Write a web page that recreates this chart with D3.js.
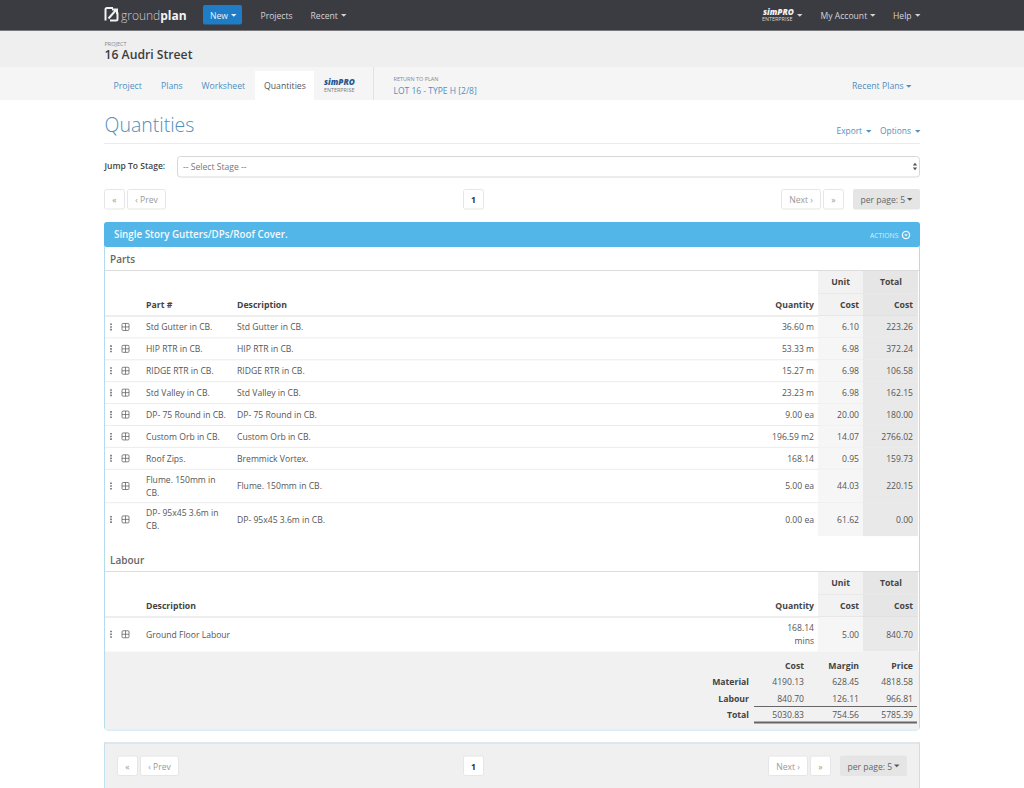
<!DOCTYPE html>
<html>
<head>
<meta charset="utf-8">
<script src="https://cdn.jsdelivr.net/npm/d3@7"></script>
<style>
  html, body { margin: 0; padding: 0; background: #fff; overflow: hidden; }
  svg { display: block; font-family: "Open Sans", sans-serif; }
</style>
</head>
<body>
<svg id="chart" width="1024" height="788"></svg>
<script>
// values
const navLeft = ['Projects', 'Recent'];
const navRight = ['My Account', 'Help'];
const tabs = ['Project', 'Plans', 'Worksheet', 'Quantities'];

const partNames = ['Std Gutter in CB.', 'HIP RTR in CB.', 'RIDGE RTR in CB.', 'Std Valley in CB.',
  'DP- 75 Round in CB.', 'Custom Orb in CB.', 'Roof Zips.', 'Flume. 150mm in\nCB.', 'DP- 95x45 3.6m in\nCB.'];
const partDescriptions = ['Std Gutter in CB.', 'HIP RTR in CB.', 'RIDGE RTR in CB.', 'Std Valley in CB.',
  'DP- 75 Round in CB.', 'Custom Orb in CB.', 'Bremmick Vortex.', 'Flume. 150mm in CB.', 'DP- 95x45 3.6m in CB.'];
const partQuantities = ['36.60 m', '53.33 m', '15.27 m', '23.23 m', '9.00 ea', '196.59 m2', '168.14', '5.00 ea', '0.00 ea'];
const partUnitCosts = ['6.10', '6.98', '6.98', '6.98', '20.00', '14.07', '0.95', '44.03', '61.62'];
const partTotalCosts = ['223.26', '372.24', '106.58', '162.15', '180.00', '2766.02', '159.73', '220.15', '0.00'];

const labourNames = ['Ground Floor Labour'];
const labourQuantities = ['168.14\nmins'];
const labourUnitCosts = ['5.00'];
const labourTotalCosts = ['840.70'];

const summaryLabels = ['Material', 'Labour', 'Total'];
const summaryCost = ['4190.13', '840.70', '5030.83'];
const summaryMargin = ['628.45', '126.11', '754.56'];
const summaryPrice = ['4818.58', '966.81', '5785.39'];

const svg = d3.select('#chart');
const blue = '#4f8fc0';
const small = 8.6;

function rect(x, y, w, h, fill, stroke, r) {
  return svg.append('rect').attr('x', x).attr('y', y).attr('width', w).attr('height', h)
    .attr('fill', fill).attr('stroke', stroke || 'none').attr('rx', r || 0);
}
function text(x, y, s, size, color, weight, anchor) {
  return svg.append('text').attr('x', x).attr('y', y).text(s)
    .attr('font-size', size).attr('fill', color).attr('font-weight', weight || 400)
    .attr('text-anchor', anchor || 'start');
}
function hline(x1, x2, y, color, w) {
  svg.append('line').attr('x1', x1).attr('x2', x2).attr('y1', y).attr('y2', y)
    .attr('stroke', color).attr('stroke-width', w || 1);
}
function caret(x, y, color) {
  svg.append('path').attr('d', `M${x},${y}l5.5,0l-2.75,2.8z`).attr('fill', color);
}

// top bar
rect(0, 0, 1024, 30, '#3b3b42');
hline(0, 1024, 30.5, '#77777c');
svg.append('path').attr('d', 'M105.5,20.5V9.5a1.5,1.5 0 0 1 1.5,-1.5H113M117.5,12.5V19a1.5,1.5 0 0 1 -1.5,1.5H110M108.5,18.5L116,10M112,9.5H117V14')
  .attr('fill', 'none').attr('stroke', '#f2f2f2').attr('stroke-width', 2);
text(121, 19.5, 'ground', 12, '#cfcfd2', 300).append('tspan').text('plan').attr('font-weight', 700).attr('fill', '#f4f4f4');
rect(203, 5, 39, 19.5, '#1f7cc6', null, 2);
text(210, 18.5, 'New', small, '#e8f2fa');
caret(231, 14, '#e8f2fa');
text(260.5, 18.5, navLeft[0], small, '#d4d4d6');
text(310.5, 18.5, navLeft[1], small, '#d4d4d6');
caret(341, 14, '#d4d4d6');
text(763, 14.5, 'simPRO', 8.2, '#f2f2f2', 800).attr('font-style', 'italic');
text(762, 21, 'ENTERPRISE', 5.4, '#d8d8d8', 400);
caret(797, 14, '#d4d4d6');
text(820.5, 18.5, navRight[0], small, '#d4d4d6');
caret(870, 14, '#d4d4d6');
text(893, 18.5, navRight[1], small, '#d4d4d6');
caret(915, 14, '#d4d4d6');

// project strip
rect(0, 31, 1024, 36, '#efeff0');
text(104.5, 46, 'PROJECT', 5.5, '#888');
text(104.5, 59, '16 Audri Street', 12.2, '#3d3d3d', 600);

// tabs
rect(0, 67, 1024, 33, '#f5f5f6');
rect(255, 71, 59, 29, '#fff');
[113.5, 161, 201.5].forEach((x, i) => text(x, 89, tabs[i], 8.7, blue));
text(264, 89, tabs[3], 8.7, '#555');
text(324, 85, 'simPRO', 8.2, '#27598f', 800).attr('font-style', 'italic');
text(324, 92, 'ENTERPRISE', 5.4, '#777');
svg.append('line').attr('x1', 373.5).attr('x2', 373.5).attr('y1', 67).attr('y2', 100).attr('stroke', '#e3e3e4');
text(393.5, 81, 'RETURN TO PLAN', 5.5, '#888');
text(393.5, 94, 'LOT 16 - TYPE H [2/8]', 8.5, blue);
text(852, 89, 'Recent Plans', 8.7, blue);
caret(906, 85, blue);

// page title
text(104.5, 132, 'Quantities', 19.5, '#4f8fc0', 300);
text(836.5, 134, 'Export', 8.4, blue);
caret(866, 130, blue);
text(880, 134, 'Options', 8.4, blue);
caret(915, 130, blue);
hline(104, 920, 143.5, '#e4edf2');

// stage select
text(104.5, 169, 'Jump To Stage:', 8.5, '#444', 600);
rect(177.5, 156.5, 742, 20.5, '#fff', '#d8d8d8', 3);
text(183, 170, '-- Select Stage --', small, '#777');
svg.append('path').attr('d', 'M912.8,165.5l2.2,-2.8l2.2,2.8zM912.8,167.5l2.2,2.8l2.2,-2.8z').attr('fill', '#555');

// pager
function button(x, y, w, label, color, weight) {
  rect(x + 0.5, y + 0.5, w - 1, 19.5, '#fff', '#e6e6e6', 2);
  text(x + w / 2, y + 14, label, small, color, weight, 'middle');
}
function pager(y, xs) {
  button(xs[0], y, 21, '«', '#999');
  button(xs[1], y, 39, '‹ Prev', '#999');
  button(463, y, 21, '1', '#333', 700);
  button(xs[2], y, 40, 'Next ›', '#999');
  button(xs[3], y, 21, '»', '#999');
  rect(xs[4], y, 67, 20.5, '#e5e5e5', null, 2);
  text(xs[4] + 7.5, y + 14, 'per page: 5', small, '#666');
  caret(xs[4] + 54, y + 9, '#555');
}
pager(189, [104, 127, 781, 823, 853]);

// main panel
rect(104.5, 222.5, 815, 507.5, '#fff', '#b4dbee', 3);
rect(104, 222, 816, 25, '#52b6e8', null, 3);
text(114, 238, 'Single Story Gutters/DPs/Roof Cover.', 9.8, '#f2f9fd', 600);
text(870, 238, 'ACTIONS', 6.8, '#d8eefa');
svg.append('circle').attr('cx', 906).attr('cy', 235).attr('r', 3.6).attr('fill', 'none').attr('stroke', '#f2f9fd').attr('stroke-width', 1.3);
svg.append('path').attr('d', 'M904.2,234.2h3.6l-1.8,2.3z').attr('fill', '#f2f9fd');

const right = { qty: 814, unit: 859, total: 913 };

// heading block shared by the parts and labour tables, returns y of first row
function tableHead(title, top, columns) {
  text(110, top + 13.5, title, 10, '#666', 600);
  hline(105, 919, top + 21.5, '#dcdcdc');
  rect(818, top + 22, 45, 45, '#f2f2f2');
  rect(863, top + 22, 55, 45, '#e6e6e6');
  hline(818, 918, top + 44.5, '#e9e9e9');
  text(850, top + 36, 'Unit', 8.7, '#444', 700, 'end');
  text(902, top + 36, 'Total', 8.7, '#444', 700, 'end');
  text(814, top + 58.5, 'Quantity', 8.7, '#444', 700, 'end');
  text(859, top + 58.5, 'Cost', 8.7, '#444', 700, 'end');
  text(913, top + 58.5, 'Cost', 8.7, '#444', 700, 'end');
  columns.forEach(c => text(c[1], top + 58.5, c[0], 8.7, '#444', 700));
  hline(105, 918, top + 67, '#dcdcdc');
  return top + 67;
}

function rowIcons(y) {
  svg.append('path').attr('d', `M111,${y - 3.5}v1.6M111,${y - 0.8}v1.6M111,${y + 1.9}v1.6`).attr('stroke', '#555').attr('stroke-width', 1.4);
  svg.append('rect').attr('x', 122).attr('y', y - 3.5).attr('width', 7).attr('height', 7).attr('rx', 1)
    .attr('fill', 'none').attr('stroke', '#666').attr('stroke-width', 0.8);
  svg.append('path').attr('d', `M125.5,${y - 3.5}v7M122,${y}h7`).attr('stroke', '#666').attr('stroke-width', 0.8);
}

function multiline(x, y, s, anchor) {
  const lines = s.split('\n');
  lines.forEach((l, i) => text(x, y + 3.3 + (i - (lines.length - 1) / 2) * 12.5, l, small, '#555', 400, anchor));
}

// row height depends on how many lines the text wraps to
function tableRows(rows, top, singleH, doubleH) {
  const heights = rows.map(d => (d.name + d.qty).includes('\n') ? doubleH : singleH);
  const tops = [top, ...d3.cumsum(heights).map(h => top + h)];
  rows.forEach((d, i) => {
    const h = heights[i], y = tops[i], cy = y + h / 2;
    rect(818, y, 45, h, '#f6f6f6');
    rect(863, y, 55, h, '#e9e9e9');
    if (i < rows.length - 1) hline(105, 918, y + h, '#ececec');
    rowIcons(cy);
    multiline(146, cy, d.name);
    if (d.desc) multiline(237, cy, d.desc);
    multiline(right.qty, cy, d.qty, 'end');
    text(right.unit, cy + 3.3, d.unit, small, '#555', 400, 'end');
    text(right.total, cy + 3.3, d.total, small, '#555', 400, 'end');
  });
  return tops[tops.length - 1];
}

const partRows = partNames.map((name, i) => ({ name, desc: partDescriptions[i], qty: partQuantities[i], unit: partUnitCosts[i], total: partTotalCosts[i] }));
const labourRows = labourNames.map((name, i) => ({ name, qty: labourQuantities[i], unit: labourUnitCosts[i], total: labourTotalCosts[i] }));

const partsTop = tableHead('Parts', 249, [['Part #', 146], ['Description', 237]]);
tableRows(partRows, partsTop, 21.9, 33.4);
const labourTop = tableHead('Labour', 550, [['Description', 146]]);
tableRows(labourRows, labourTop, 34.5, 34.5);

// cost summary
rect(105, 651.5, 814, 78, '#f1f1f1');
text(804, 669, 'Cost', 8.7, '#444', 700, 'end');
text(859, 669, 'Margin', 8.7, '#444', 700, 'end');
text(913, 669, 'Price', 8.7, '#444', 700, 'end');
const summaryY = d3.scalePoint().domain(summaryLabels).range([685, 718]);
summaryLabels.forEach((label, i) => {
  const y = summaryY(label);
  text(749, y, label, 8.7, '#444', 700, 'end');
  text(804, y, summaryCost[i], small, '#555', 400, 'end');
  text(859, y, summaryMargin[i], small, '#555', 400, 'end');
  text(913, y, summaryPrice[i], small, '#555', 400, 'end');
});
hline(754, 917, 706.5, '#666');
hline(754, 917, 722.5, '#666', 2);

// footer pager panel
rect(104, 743, 816, 45, '#f0f0f0');
hline(104, 920, 743, '#dfe5e8', 2);
svg.append('line').attr('x1', 104.5).attr('x2', 104.5).attr('y1', 743).attr('y2', 788).attr('stroke', '#c4e0ef');
svg.append('line').attr('x1', 919.5).attr('x2', 919.5).attr('y1', 743).attr('y2', 788).attr('stroke', '#c4e0ef');
pager(755.5, [117, 140, 768, 810, 840]);
</script>
</body>
</html>
